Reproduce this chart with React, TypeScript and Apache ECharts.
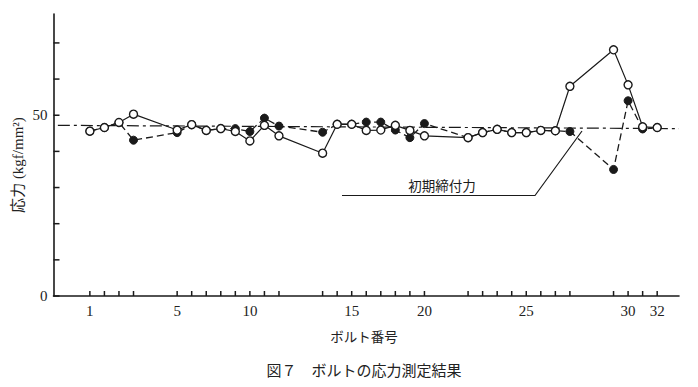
import React, { useEffect, useRef } from "react";
import * as echarts from "echarts";

// Bolt numbers 1..32, grouped on the axis in groups of 4,8,8,8,4 with gaps
const boltGroups = [4, 8, 8, 8, 4];
const groupGap = 2;
const labeledBolts = [1, 5, 10, 15, 20, 25, 30, 32];

// Open circles (solid line)
const openValues = [
  45.6, 46.6, 48.0, 50.3, 45.9, 47.4, 45.8, 46.3, 45.5, 42.9, 47.2, 44.3,
  39.5, 47.5, 47.5, 45.8, 45.9, 47.2, 45.8, 44.3, 43.8, 45.2, 46.1, 45.2,
  45.2, 45.8, 45.7, 58.0, 68.1, 58.4, 46.8, 46.6,
];
// Filled circles (dashed line)
const filledValues = [
  45.6, 46.6, 48.0, 43.1, 45.2, 47.4, 45.8, 46.3, 46.3, 45.5, 49.2, 47.0,
  45.3, 47.5, 47.5, 48.1, 48.1, 45.9, 43.8, 47.7, 43.8, 45.2, 46.1, 45.2,
  45.2, 45.8, 45.7, 45.5, 35.0, 54.0, 46.2, 46.6,
];
// Initial tightening force (dash-dot line), start and end values
const initialForce = [47.2, 46.3];

const yTickValues = [0, 10, 20, 30, 40, 50, 60, 70];
const yLabelValues = [0, 50];

function boltPositions(): number[] {
  const pos: number[] = [];
  let p = 0;
  boltGroups.forEach((n, gi) => {
    for (let i = 0; i < n; i++) {
      pos.push(p);
      p += 1;
    }
    if (gi < boltGroups.length - 1) p += groupGap;
  });
  return pos;
}

export default function App() {
  const ref = useRef<HTMLDivElement>(null);
  useEffect(() => {
    document.body.style.margin = "0";
    if (!ref.current) return;
    const chart = echarts.init(ref.current, undefined, { renderer: "svg" });
    const positions = boltPositions();
    const posToBolt = new Map<number, number>();
    positions.forEach((p, i) => posToBolt.set(p, i + 1));
    const labelPositions = labeledBolts.map((b) => positions[b - 1]);
    const ink = "#1a1a1a";
    const serif = "'Liberation Serif', 'Noto Sans CJK JP', serif";
    const gothic = "'Noto Sans CJK JP', sans-serif";
    const xMin = -2.5;
    const xMax = 40.5;

    chart.setOption({
      animation: false,
      backgroundColor: "#fff",
      grid: {
        left: 53.5,
        right: 19,
        top: 14,
        bottom: 91,
        containLabel: false,
        outerBoundsMode: "none",
      },
      xAxis: {
        type: "value",
        min: xMin,
        max: xMax,
        axisLine: { show: true, onZero: false, lineStyle: { color: ink, width: 1.6 } },
        axisTick: { show: false },
        axisLabel: {
          show: true,
          customValues: labelPositions,
          formatter: (v: number) => String(posToBolt.get(Math.round(v)) ?? ""),
          fontFamily: serif,
          fontSize: 15,
          color: "#222",
          margin: 7,
        },
        splitLine: { show: false },
      },
      yAxis: {
        type: "value",
        min: 0,
        max: 78,
        axisLine: { show: true, onZero: false, lineStyle: { color: ink, width: 1.6 } },
        axisTick: { show: false },
        axisLabel: {
          show: true,
          customValues: yLabelValues,
          fontFamily: serif,
          fontSize: 15,
          color: "#222",
          margin: 6,
        },
        splitLine: { show: false },
      },
      series: [
        {
          type: "custom",
          name: "xTicks",
          data: positions.map((p) => [p, 0]),
          clip: false,
          silent: true,
          z: 5,
          renderItem: (params: any, api: any) => {
            const c = api.coord([api.value(0), 0]);
            return {
              type: "line",
              shape: { x1: c[0], y1: c[1], x2: c[0], y2: c[1] - 5 },
              style: { stroke: ink, lineWidth: 1.5 },
            };
          },
        },
        {
          type: "custom",
          name: "yTicks",
          data: yTickValues.map((v) => [xMin, v]),
          clip: false,
          silent: true,
          z: 5,
          renderItem: (params: any, api: any) => {
            const c = api.coord([api.value(0), api.value(1)]);
            return {
              type: "line",
              shape: { x1: c[0], y1: c[1], x2: c[0] + 6, y2: c[1] },
              style: { stroke: ink, lineWidth: 1.5 },
            };
          },
        },
        {
          type: "line",
          name: "初期締付力",
          data: [
            [-2.2, initialForce[0]],
            [xMax, initialForce[1]],
          ],
          symbol: "none",
          lineStyle: { color: ink, width: 1.2, type: [12, 4, 3, 4] },
          silent: true,
          z: 1,
        },
        {
          type: "line",
          name: "filled",
          data: filledValues.map((v, i) => [positions[i], v]),
          symbol: "circle",
          symbolSize: 8,
          itemStyle: { color: ink, borderColor: ink, borderWidth: 1 },
          lineStyle: { color: ink, width: 1.3, type: [7, 4] },
          silent: true,
          z: 2,
        },
        {
          type: "line",
          name: "open",
          data: openValues.map((v, i) => [positions[i], v]),
          symbol: "circle",
          symbolSize: 8,
          itemStyle: { color: "#fff", borderColor: ink, borderWidth: 1.4 },
          lineStyle: { color: ink, width: 1.2 },
          silent: true,
          z: 3,
        },
      ],
      graphic: [
        {
          type: "polyline",
          shape: { points: [[342, 195.5], [535, 195.5], [582, 131]] },
          style: { stroke: ink, lineWidth: 1.2, fill: "none" },
          silent: true,
        },
        {
          type: "text",
          x: 442,
          y: 185,
          style: {
            text: "初期締付力",
            fontFamily: gothic,
            fontSize: 13.5,
            fill: ink,
            textAlign: "center",
            textVerticalAlign: "middle",
          },
        },
        {
          type: "text",
          x: 18,
          y: 165,
          rotation: Math.PI / 2,
          style: {
            text: "応力 (kgf/mm²)",
            fontFamily: serif,
            fontSize: 15,
            fill: "#222",
            textAlign: "center",
            textVerticalAlign: "middle",
          },
        },
        {
          type: "text",
          x: 364,
          y: 336,
          style: {
            text: "ボルト番号",
            fontFamily: gothic,
            fontSize: 13.5,
            fill: "#222",
            textAlign: "center",
            textVerticalAlign: "middle",
          },
        },
        {
          type: "text",
          x: 364,
          y: 369,
          style: {
            text: "図７　ボルトの応力測定結果",
            fontFamily: gothic,
            fontSize: 15,
            fill: "#222",
            textAlign: "center",
            textVerticalAlign: "middle",
          },
        },
      ],
    });
    return () => chart.dispose();
  }, []);
  return <div ref={ref} style={{ width: 698, height: 387 }} />;
}
